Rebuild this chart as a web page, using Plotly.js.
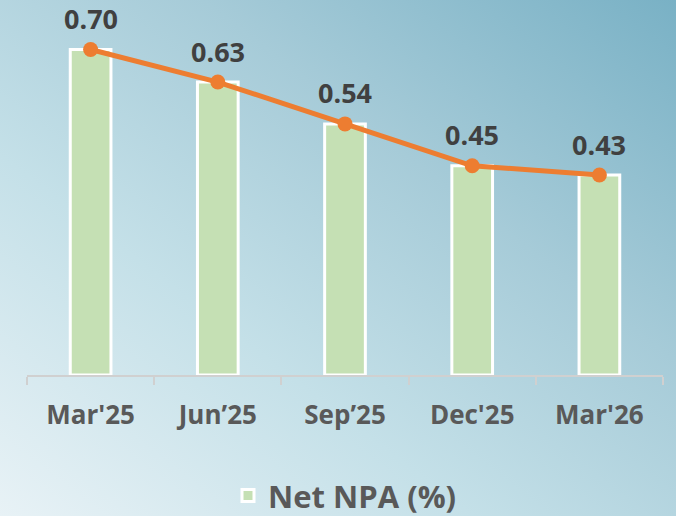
<!DOCTYPE html>
<html>
<head>
<meta charset="utf-8">
<script src="https://cdn.plot.ly/plotly-3.0.1.min.js"></script>
<style>
html,body{margin:0;padding:0;}
#chart{width:676px;height:516px;background:linear-gradient(to top right,#e8f2f6 0%,#c4e0e8 35%,#a6cbd8 65%,#79b1c5 100%);}
</style>
</head>
<body>
<div id="chart"></div>
<script>
const categories = ["Mar'25", "Jun\u201925", "Sep\u201925", "Dec'25", "Mar'26"];
const netNPA = [0.70, 0.63, 0.54, 0.45, 0.43];
const valueLabels = ["0.70", "0.63", "0.54", "0.45", "0.43"];

const FONT = "'Open Sans', 'Noto Sans', sans-serif";

const traces = [
  {
    type: 'bar',
    x: categories,
    y: netNPA,
    name: 'Net NPA (%)',
    width: 0.32,
    marker: {color: '#C5E0B4', line: {color: '#ffffff', width: 3}},
    hoverinfo: 'skip'
  },
  {
    type: 'scatter',
    mode: 'lines+markers',
    x: categories,
    y: netNPA,
    showlegend: false,
    line: {color: '#ED7D31', width: 5},
    marker: {color: '#ED7D31', size: 15},
    hoverinfo: 'skip'
  }
];

const annotations = categories.map((c, i) => ({
  x: c, y: netNPA[i], xref: 'x', yref: 'y',
  text: '<b>' + valueLabels[i] + '</b>',
  showarrow: false, yshift: 31,
  font: {family: FONT, size: 27, color: '#404040'}
}));

const layout = {
  width: 676, height: 516,
  paper_bgcolor: 'rgba(0,0,0,0)',
  plot_bgcolor: 'rgba(0,0,0,0)',
  margin: {l: 27, r: 13, t: 3, b: 141, autoexpand: false},
  bargap: 0,
  xaxis: {
    showgrid: false, zeroline: false, automargin: false,
    showline: true, linecolor: '#d0d0d0', linewidth: 2,
    ticks: 'outside', tickcolor: '#d0d0d0', ticklen: 8, tickwidth: 2,
    tickson: 'boundaries',
    tickfont: {family: FONT, size: 26, color: '#595959', weight: 'bold'},
    ticklabelstandoff: 16
  },
  yaxis: {
    range: [0, 0.8], visible: false, showgrid: false, zeroline: false
  },
  showlegend: true,
  legend: {
    orientation: 'h', x: 0.5, xanchor: 'center', y: -0.325, yanchor: 'middle',
    font: {family: FONT, size: 31, color: '#595959', weight: 'bold'},
    bgcolor: 'rgba(0,0,0,0)', itemwidth: 30
  },
  annotations: annotations
};

Plotly.newPlot('chart', traces, layout, {staticPlot: true, displayModeBar: false});
</script>
</body>
</html>
